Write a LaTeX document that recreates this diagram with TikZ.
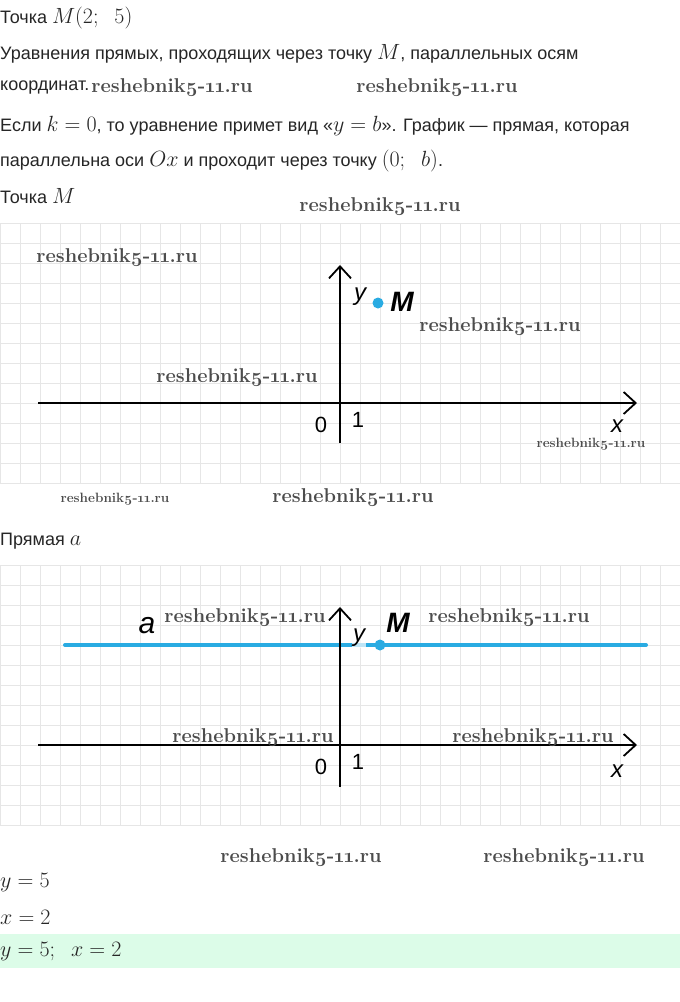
\RequirePackage{fix-cm}
\documentclass[tikz,border=0pt]{standalone}
\usepackage{fontspec}
\setmainfont{Liberation Sans}
\newfontfamily\lblfont{Liberation Sans}
\newfontfamily\wmfont{Latin Modern Roman}
\usetikzlibrary{arrows.meta}
\definecolor{lineblue}{RGB}{41,171,226}
\definecolor{gridgray}{RGB}{230,230,230}
\definecolor{mint}{RGB}{220,252,232}
\newcommand{\mth}[1]{{\fontsize{22}{22}\selectfont$#1$}}
\newcommand{\wmtext}{reshebnik\oldstylenums{5}-\oldstylenums{11}.ru}

\begin{document}
\begin{tikzpicture}[x=1pt,y=-1pt,txt/.style={anchor=west,inner sep=0,font=\fontsize{18}{18}\selectfont,text=black!85},wm/.style={inner sep=0,text=black!70,font=\wmfont\bfseries\fontsize{20}{20}\selectfont},wmsmall/.style={wm,font=\wmfont\bfseries\fontsize{13.5}{13.5}\selectfont},gridline/.style={gridgray,line width=1pt},axis/.style={line width=1.8pt,-{Straight Barb[length=12pt,width=22pt,line width=1.8pt]}},lbl/.style={inner sep=0,font=\lblfont\itshape\fontsize{24}{24}\selectfont},num/.style={inner sep=0,font=\lblfont\fontsize{22}{22}\selectfont},lblM/.style={inner sep=0,font=\lblfont\bfseries\itshape\fontsize{28}{28}\selectfont},ptdot/.style={circle,fill=lineblue,inner sep=0,minimum size=11pt}]
\def\ya{403};
\def\yb{745};
\def\ax{340};

\fill[white] (0,0) rectangle (680,1002);
\useasboundingbox (0,0) rectangle (680,1002);

% text above
\node[txt] (head) at (0,18) {Точка \mth{M(2;\;\ 5)}};
\node[txt] (l1) at (0,54) {Уравнения прямых, проходящих через точку \mth{M}, параллельных осям};
\node[txt] (l2) at (0,88) {координат.};
\node[txt] (l3) at (0,126) {Если \mth{k=0}, то уравнение примет вид «\mth{y=b}». График — прямая, которая};
\node[txt] (l4) at (0,161) {параллельна оси \mth{Ox} и проходит через точку \mth{(0;\;\ b)}.};
\node[txt] (l5) at (0,196) {Точка \mth{M}};

% grid 1
\foreach \gx in {0,20,...,680} \draw[gridline] (\gx,\ya-180) -- (\gx,\ya+80);
\foreach \k in {-9,...,4} \draw[gridline] (0,\ya+20*\k) -- (680,\ya+20*\k);

\coordinate (X1a) at (38,\ya);
\coordinate (X1b) at (637,\ya);
\coordinate (Y1a) at (\ax,\ya+40);
\coordinate (Y1b) at (\ax,\ya-138);
\draw[axis] (X1a) -- (X1b);
\draw[axis] (Y1a) -- (Y1b);
\node[ptdot] (M1) at (\ax+38,\ya-100) {};
\node[lbl] (y1) at (\ax+20,\ya-106) {y};
\node[lblM] (M1l) at (\ax+62,\ya-101) {M};
\node[num] (o1) at (\ax-19,\ya+22) {0};
\node[num] (e1) at (\ax+18,\ya+17) {1};
\node[lbl] (x1) at (617,\ya+23) {x};

% grid 2
\node[txt] (l6) at (0,541) {Прямая \mth{a}};
\foreach \gx in {0,20,...,680} \draw[gridline] (\gx,\yb-180) -- (\gx,\yb+80);
\foreach \k in {-9,...,4} \draw[gridline] (0,\yb+20*\k) -- (680,\yb+20*\k);

\coordinate (A1) at (65,\yb-100);
\coordinate (A2) at (646,\yb-100);
\draw[lineblue,line width=4pt,line cap=round] (A1) -- (A2);
\coordinate (X2a) at (38,\yb);
\coordinate (X2b) at (637,\yb);
\coordinate (Y2a) at (\ax,\yb+42);
\coordinate (Y2b) at (\ax,\yb-138);
\draw[axis] (X2a) -- (X2b);
\draw[axis] (Y2a) -- (Y2b);
\node[ptdot] (M2) at (\ax+40,\yb-100) {};
\node[lbl,fill=white,fill opacity=.7,text opacity=1,inner sep=1pt] (y2) at (\ax+19,\yb-107) {y};
\node[lblM] (M2l) at (\ax+58,\yb-122) {M};
\node[lbl,font=\lblfont\itshape\fontsize{30}{30}\selectfont] (a2) at (147,\yb-119) {a};
\node[num] (o2) at (\ax-19,\yb+22) {0};
\node[num] (e2) at (\ax+18,\yb+17) {1};
\node[lbl] (x2) at (617,\yb+26) {x};

% answer
\node[txt] (l7) at (0,883) {\mth{y=5}};
\node[txt] (l8) at (0,917) {\mth{x=2}};
\fill[mint] (0,934) rectangle (680,968);
\node[txt] (l9) at (0,952) {\mth{y=5;\;\ x=2}};

% watermarks
\node[wm] (w1) at (172,88) {\wmtext};
\node[wm] (w2) at (437,88) {\wmtext};
\node[wm] (w3) at (380,207) {\wmtext};
\node[wm] (w4) at (117,258) {\wmtext};
\node[wm] (w5) at (500,327) {\wmtext};
\node[wm] (w6) at (237,378) {\wmtext};
\node[wmsmall] (w7) at (591,444) {\wmtext};
\node[wmsmall] (w8) at (115,499) {\wmtext};
\node[wm] (w9) at (353,498) {\wmtext};
\node[wm] (w10) at (245,618) {\wmtext};
\node[wm] (w11) at (509,618) {\wmtext};
\node[wm] (w12) at (253,738) {\wmtext};
\node[wm] (w13) at (533,738) {\wmtext};
\node[wm] (w14) at (301,858) {\wmtext};
\node[wm] (w15) at (564,858) {\wmtext};
\end{tikzpicture}
\end{document}
